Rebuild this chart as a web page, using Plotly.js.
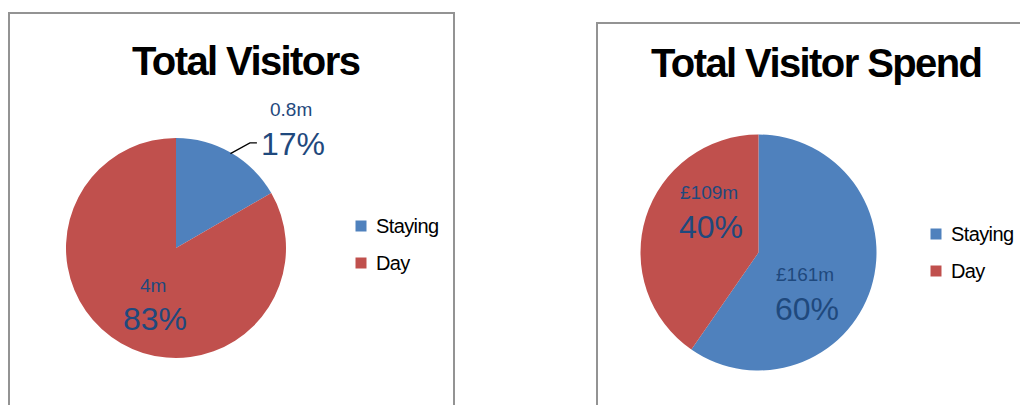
<!DOCTYPE html>
<html><head><meta charset="utf-8">
<script src="https://cdn.plot.ly/plotly-3.0.1.min.js"></script>
<style>html,body{margin:0;padding:0;background:#fff}</style></head><body>
<div id="chart" style="width:1020px;height:405px"></div>
<script>
// ---- data ----
const segments = ['Staying', 'Day'];
const visitors = [0.8, 4];          // millions
const spend = [161, 109];           // £ millions
const titles = ['Total Visitors', 'Total Visitor Spend'];
const colors = ['#4F81BD', '#C0504D'];

const visitorText = visitors.map(v => v + 'm');
const spendText = spend.map(v => '£' + v + 'm');

// ---- layout / style ----
const W = 1020, H = 405;
const pies = [
  {cx: 176, cy: 248, r: 110, values: visitors, text: visitorText,
   labels: [{shift: 14, k: 1.53, leader: true}, {shift: -9, k: 0.53}],
   title: {x: 246, y: 61}, box: {x0: 9, x1: 454, y1: 13},
   legend: {x: 355.5, y: 226}},
  {cx: 758.5, cy: 252.5, r: 118, values: spend, text: spendText,
   labels: [{shift: 21.6, k: 0.53}, {shift: 24.6, k: 0.54}],
   title: {x: 815.5, y: 63}, box: {x0: 597, x1: 1030, y1: 23},
   legend: {x: 930.5, y: 234}}
];
const labelColor = '#1F497D';
const font = 'Liberation Sans, Arial, sans-serif';
const legendGap = 37, sq = 11;
const px = x => x / W, py = y => 1 - y / H;

const traces = [], annotations = [], shapes = [];
pies.forEach((p, i) => {
  traces.push({
    type: 'pie', labels: segments, values: p.values, sort: false, direction: 'clockwise',
    rotation: 0, marker: {colors: colors, line: {width: 0}}, textinfo: 'none',
    hoverinfo: 'none', showlegend: false,
    domain: {x: [px(p.cx - p.r), px(p.cx + p.r)], y: [py(p.cy + p.r), py(p.cy - p.r)]}
  });
  // frame
  shapes.push({type: 'rect', xref: 'paper', yref: 'paper', x0: px(p.box.x0), x1: px(p.box.x1),
    y0: -0.2, y1: py(p.box.y1), line: {color: '#939393', width: 2}, layer: 'below'});
  // title
  annotations.push({xref: 'paper', yref: 'paper', x: px(p.title.x), y: py(p.title.y),
    xanchor: 'center', yanchor: 'middle', showarrow: false,
    text: '<span style="letter-spacing:-1.6px">' + titles[i] + '</span>',
    font: {family: font, size: 40, color: '#000', weight: 'bold'}});
  // legend
  segments.forEach((s, j) => {
    const cy = p.legend.y + j * legendGap;
    shapes.push({type: 'rect', xref: 'paper', yref: 'paper',
      x0: px(p.legend.x), x1: px(p.legend.x + sq), y0: py(cy + sq / 2), y1: py(cy - sq / 2),
      fillcolor: colors[j], line: {width: 0}});
    annotations.push({xref: 'paper', yref: 'paper', x: px(p.legend.x + sq + 7), y: py(cy),
      xanchor: 'left', yanchor: 'middle', showarrow: false,
      text: '<span style="letter-spacing:-0.6px">' + s + '</span>',
      font: {family: font, size: 20, color: '#000'}});
  });
  // data labels
  const total = p.values.reduce((a, b) => a + b, 0);
  let cum = 0;
  p.values.forEach((v, j) => {
    const mid = (cum + v / 2) / total * 360;
    cum += v;
    const st = p.labels[j];
    const a = (mid + st.shift) * Math.PI / 180;
    const lx = p.cx + p.r * st.k * Math.sin(a);
    const ly = p.cy - p.r * st.k * Math.cos(a);
    const pct = Math.round(v / total * 100) + '%';
    annotations.push({xref: 'paper', yref: 'paper', x: px(lx - 2), y: py(ly - 17),
      xanchor: 'center', yanchor: 'middle', showarrow: false, text: p.text[j],
      font: {family: font, size: 19, color: labelColor}});
    annotations.push({xref: 'paper', yref: 'paper', x: px(lx), y: py(ly + 17),
      xanchor: 'center', yanchor: 'middle', showarrow: false, text: pct,
      font: {family: font, size: 32, color: labelColor}});
    if (st.leader) {
      const am = mid * Math.PI / 180;
      const sx = p.cx + p.r * 0.99 * Math.sin(am), sy = p.cy - p.r * 0.99 * Math.cos(am);
      const ex = lx - 36, ey = ly + 16;
      shapes.push({type: 'path', xref: 'paper', yref: 'paper',
        path: `M${px(sx)},${py(sy)} L${px(ex - 7)},${py(ey)} L${px(ex)},${py(ey)}`,
        line: {color: '#000', width: 1.3}});
    }
  });
});

const layout = {
  width: W, height: H, margin: {l: 0, r: 0, t: 0, b: 0},
  paper_bgcolor: '#fff', plot_bgcolor: '#fff', showlegend: false,
  annotations: annotations, shapes: shapes
};
Plotly.newPlot('chart', traces, layout, {displayModeBar: false, staticPlot: true});
</script>
</body></html>
